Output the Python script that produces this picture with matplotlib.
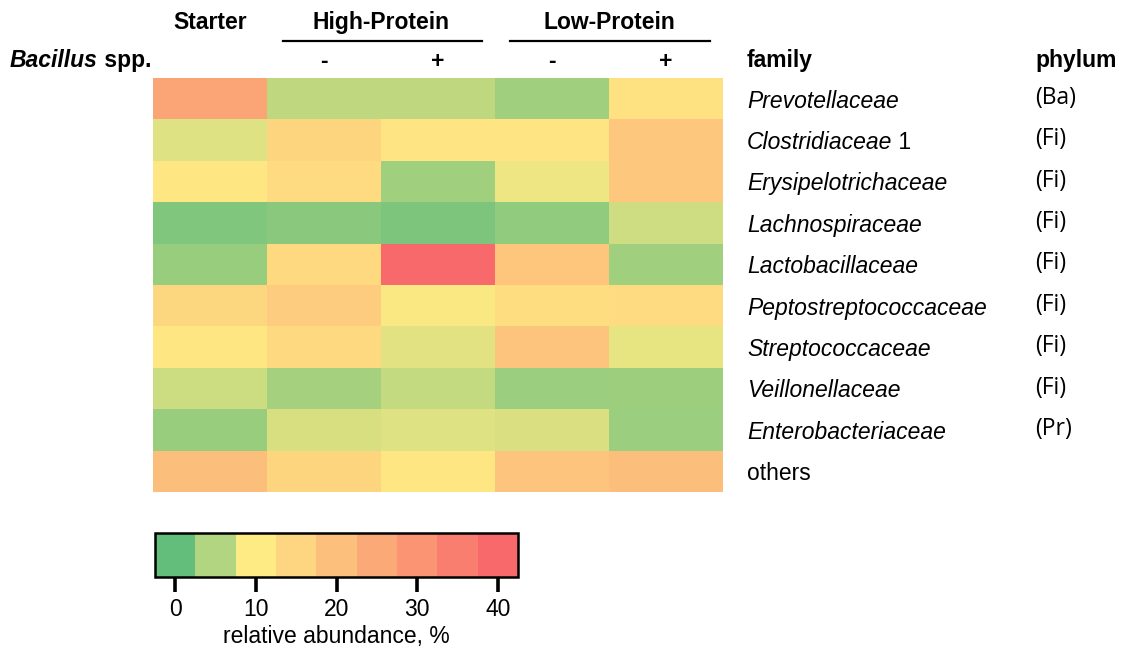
import numpy as np
import matplotlib
matplotlib.use("Agg")
import matplotlib.pyplot as plt
from matplotlib.colors import LinearSegmentedColormap, ListedColormap, BoundaryNorm, Normalize
from matplotlib.cm import ScalarMappable

families = ["Prevotellaceae", "Clostridiaceae", "Erysipelotrichaceae", "Lachnospiraceae",
            "Lactobacillaceae", "Peptostreptococcaceae", "Streptococcaceae",
            "Veillonellaceae", "Enterobacteriaceae", "others"]
phyla = ["(Ba)", "(Fi)", "(Fi)", "(Fi)", "(Fi)", "(Fi)", "(Fi)", "(Fi)", "(Pr)", ""]
bacillus = ["", "-", "+", "-", "+"]

# relative abundance (%) per family: Starter, HP-, HP+, LP-, LP+
starter = [26, 8, 11, 2, 3.5, 14.5, 11, 6.8, 3.5, 20]
hp_minus = [6, 15, 13.5, 2.5, 14, 17, 14, 4.3, 7.6, 15]
hp_plus = [6, 11.5, 4, 1.8, 40, 9.7, 8.2, 6.3, 8.1, 11]
lp_minus = [4, 11.5, 9, 3, 18.5, 13, 19, 3.7, 7.8, 19]
lp_plus = [12, 18, 18, 7, 4, 13.5, 8.5, 3.9, 3.7, 20]

cb_ticks = [0, 10, 20, 30, 40]

data = np.column_stack([starter, hp_minus, hp_plus, lp_minus, lp_plus])

green, yellow, red = "#63BE7B", "#FFEB84", "#F8696B"
cmap = LinearSegmentedColormap.from_list("gyr", [(0, green), (0.25, yellow), (1, red)])
norm = Normalize(0, 40)

fig = plt.figure(figsize=(11.3, 6.52), dpi=100)
ax = fig.add_axes([153 / 1130, 1 - 492 / 652, 570 / 1130, 414 / 652])
ax.imshow(data, cmap=cmap, norm=norm, aspect="auto", interpolation="nearest")
ax.set_axis_off()

lfont = ["Liberation Sans", "DejaVu Sans"]
hsize = 16.5
fsize = 16.5

# column group headers
ax.text(0, -1.85, "Starter", ha="center", va="center", fontsize=hsize, fontweight="bold", family=lfont)
ax.text(1.5, -1.85, "High-Protein", ha="center", va="center", fontsize=hsize, fontweight="bold", family=lfont)
ax.text(3.5, -1.85, "Low-Protein", ha="center", va="center", fontsize=hsize, fontweight="bold", family=lfont)
for x0, x1 in [(0.64, 2.39), (2.63, 4.39)]:
    ax.plot([x0, x1], [-1.4, -1.4], color="black", lw=1.6, clip_on=False)

t = ax.text(-1.754, -0.93, "Bacillus", ha="left", va="center", fontsize=hsize,
            fontweight="bold", style="italic", family=lfont)
ax.annotate(" spp.", xy=(1, 0), xycoords=t, va="bottom", ha="left", fontsize=hsize,
            fontweight="bold", family=lfont)
for j, s in enumerate(bacillus):
    ax.text(j, -0.9, s, ha="center", va="center", fontsize=hsize, fontweight="bold", family=lfont)

# row labels
ax.text(4.71, -0.93, "family", ha="left", va="center", fontsize=fsize, fontweight="bold", family=lfont)
ax.text(7.24, -0.93, "phylum", ha="left", va="center", fontsize=fsize, fontweight="bold", family=lfont)
for i, (fam, ph) in enumerate(zip(families, phyla)):
    y = i + 0.06
    if fam == "others":
        ax.text(4.71, y, fam, ha="left", va="center", fontsize=fsize, family=lfont)
    else:
        tt = ax.text(4.71, y, fam, ha="left", va="center", fontsize=fsize, style="italic", family=lfont)
        if fam == "Clostridiaceae":
            ax.annotate(" 1", xy=(1, 0), xycoords=tt, va="bottom", ha="left", fontsize=fsize, family=lfont)
    ax.text(7.24, i - 0.02, ph, ha="left", va="center", fontsize=16.5, family=["Open Sans", "DejaVu Sans"])

ax.set_xlim(-0.5, 4.5)
ax.set_ylim(9.5, -0.5)

# discrete colour key
centers = np.arange(0, 45, 5)
bounds = np.arange(-2.5, 45, 5)
cb_cmap = ListedColormap([cmap(norm(c)) for c in centers])
cb_norm = BoundaryNorm(bounds, cb_cmap.N)
cax = fig.add_axes([155 / 1130, 1 - 577 / 652, 363 / 1130, 44 / 652])
cb = fig.colorbar(ScalarMappable(norm=cb_norm, cmap=cb_cmap), cax=cax,
                  orientation="horizontal", ticks=cb_ticks)
cb.minorticks_off()
cb.outline.set_linewidth(1.8)
cax.tick_params(length=11, width=2.6, labelsize=16.5, pad=4)
for lbl in cax.get_xticklabels():
    lbl.set_family(lfont)
cb.set_label("relative abundance, %", fontsize=16.5, family=lfont, labelpad=3)

fig.savefig("out.png", dpi=100)
